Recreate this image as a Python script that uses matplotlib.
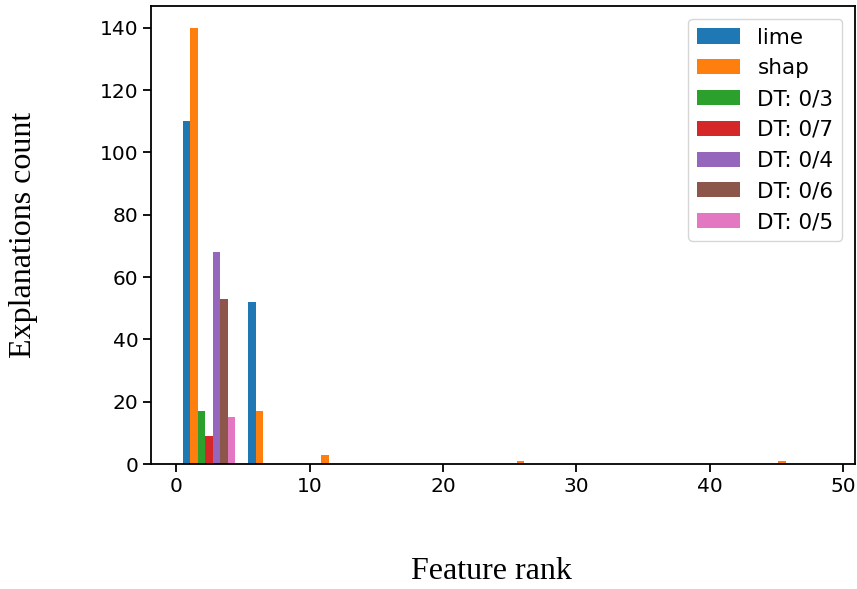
import numpy as np
import matplotlib
matplotlib.use("Agg")
import matplotlib.pyplot as plt

# histogram of feature ranks, counts per bin (10 bins over ranks 0..49)
bin_edges = np.linspace(0, 49, 11)
labels = ['lime', 'shap', 'DT: 0/3', 'DT: 0/7', 'DT: 0/4', 'DT: 0/6', 'DT: 0/5']
lime = [110, 52, 0, 0, 0, 0, 0, 0, 0, 0]
shap = [140, 17, 3, 0, 0, 1, 0, 0, 0, 1]
dt_03 = [17, 0, 0, 0, 0, 0, 0, 0, 0, 0]
dt_07 = [9, 0, 0, 0, 0, 0, 0, 0, 0, 0]
dt_04 = [68, 0, 0, 0, 0, 0, 0, 0, 0, 0]
dt_06 = [53, 0, 0, 0, 0, 0, 0, 0, 0, 0]
dt_05 = [15, 0, 0, 0, 0, 0, 0, 0, 0, 0]

counts = [lime, shap, dt_03, dt_07, dt_04, dt_06, dt_05]
centers = (bin_edges[:-1] + bin_edges[1:]) / 2

fig = plt.figure(figsize=(8.57, 5.89), dpi=100)
ax = fig.add_axes([151/857, 1-464/589, (855-151)/857, (464-6)/589])

ax.hist([centers]*len(counts), bins=bin_edges, weights=counts, label=labels)

ax.tick_params(labelsize=14.5, length=5.5, width=1.3)
for s in ax.spines.values():
    s.set_linewidth(1.3)
ax.legend(fontsize=15.5, loc='upper right', borderaxespad=0.6)

fig.text(491/857, 1-579/589, 'Feature rank', family='Liberation Serif',
         fontsize=23, ha='center', va='baseline')
fig.text(24/857, 1-235/589, 'Explanations count', family='Liberation Serif',
         fontsize=23, ha='center', va='center', rotation=90)

plt.savefig('out.png')
